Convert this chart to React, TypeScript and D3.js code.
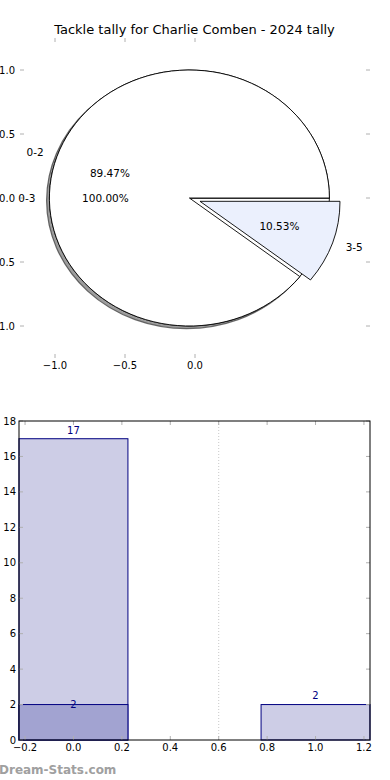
import * as d3 from "d3";

const title = "Tackle tally for Charlie Comben - 2024 tally";

// pie data
const fullLabels = ["0-3"];
const fullValues = [19];
const splitLabels = ["0-2", "3-5"];
const splitValues = [17, 2];
const splitExplode = [0, 0.08];
const pieXTicks = [-1.0, -0.5, 0.0];
const pieYTicks = [-1.0, -0.5, 0.0, 0.5, 1.0];

// bar data
const barCats = [0, 1];
const barTotals = [17, 2];
const barSubset = [2, 0];
const barXTicks = [-0.2, 0.0, 0.2, 0.4, 0.6, 0.8, 1.0, 1.2];
const barYTicks = [0, 2, 4, 6, 8, 10, 12, 14, 16, 18];
const dividers = [0.6];

const font = "DejaVu Sans, sans-serif";
const minus = (s: string) => s.replace("-", "\u2212");

const pieCenter = [-0.04, 0];
const px = d3.scaleLinear().domain([-1.25, 1.25]).range([20, 370]);
const py = d3.scaleLinear().domain([-1.25, 1.25]).range([358, 38]);

// wedge in data coords (mpl angles, counterclockwise from 3 o'clock)
function wedge(cx: number, cy: number, a0: number, a1: number, dx = 0, dy = 0) {
  const rx = px(1) - px(0);
  const ry = py(0) - py(1);
  const pt = (a: number) => [px(cx + Math.cos(a)) + dx, py(cy + Math.sin(a)) + dy];
  const c = [px(cx) + dx, py(cy) + dy];
  if (a1 - a0 >= 2 * Math.PI - 1e-6) {
    const p0 = pt(a0);
    const pm = pt(a0 + Math.PI);
    return `M${c[0]},${c[1]}L${p0[0]},${p0[1]}A${rx},${ry} 0 1 0 ${pm[0]},${pm[1]}A${rx},${ry} 0 1 0 ${p0[0]},${p0[1]}Z`;
  }
  const p0 = pt(a0);
  const p1 = pt(a1);
  const large = a1 - a0 > Math.PI ? 1 : 0;
  return `M${c[0]},${c[1]}L${p0[0]},${p0[1]}A${rx},${ry} 0 ${large} 0 ${p1[0]},${p1[1]}Z`;
}

function pieSlices(values: number[], labels: string[], explode: number[]) {
  const arcs = d3.pie<number>().sort(null)(values);
  const total = d3.sum(values);
  return arcs.map((a, i) => {
    const a0 = a.startAngle;
    const a1 = a.endAngle;
    const mid = (a0 + a1) / 2;
    const e = explode[i] || 0;
    const cx = pieCenter[0] + e * Math.cos(mid);
    const cy = pieCenter[1] + e * Math.sin(mid);
    return {
      a0, a1, mid, cx, cy,
      label: labels[i],
      pct: ((values[i] / total) * 100).toFixed(2) + "%",
    };
  });
}

const fullSlices = pieSlices(fullValues, fullLabels, [0]);
const splitSlices = pieSlices(splitValues, splitLabels, splitExplode);

const bx = d3.scaleLinear().domain([-0.225, 1.225]).range([19, 370]);
const by = d3.scaleLinear().domain([0, 18]).range([740, 421]);
const barW = 0.45;

const tickGray = "#b0b0b0";

export default function App() {
  // shadow offset (-0.02, -0.02) in data units
  const sdx = px(-0.02) - px(0);
  const sdy = py(-0.02) - py(0);
  const labelEl = (s: any, key: string) => {
    const lx = s.cx + 1.1 * Math.cos(s.mid);
    const ly = s.cy + 1.1 * Math.sin(s.mid);
    const tx = s.cx + 0.6 * Math.cos(s.mid);
    const ty = s.cy + 0.6 * Math.sin(s.mid);
    return (
      <g key={key}>
        <text x={px(lx)} y={py(ly)} dy="0.35em" fontSize={10.5}
          textAnchor={lx < 0 ? "end" : "start"}>{s.label}</text>
        <text x={px(tx)} y={py(ty)} dy="0.35em" fontSize={10.5} textAnchor="middle">{s.pct}</text>
      </g>
    );
  };
  const barWidthPx = bx(barW) - bx(0);
  return (
    <svg width={390} height={780} style={{ position: "absolute", left: 0, top: 0 }}
      fontFamily={font}>
      <rect width={390} height={780} fill="#fff" />
      <text x={194.5} y={34} fontSize={13} textAnchor="middle">{title}</text>

      {/* pie ticks */}
      {pieXTicks.map((t) => (
        <g key={"px" + t}>
          <line x1={px(t)} x2={px(t)} y1={38} y2={42} stroke={tickGray} />
          <line x1={px(t)} x2={px(t)} y1={354} y2={358} stroke={tickGray} />
          <text x={px(t)} y={369} fontSize={10} textAnchor="middle">{minus(t.toFixed(1))}</text>
        </g>
      ))}
      {pieYTicks.map((t) => (
        <g key={"py" + t}>
          <line x1={20} x2={24} y1={py(t)} y2={py(t)} stroke={tickGray} />
          <line x1={366} x2={370} y1={py(t)} y2={py(t)} stroke={tickGray} />
          <text x={15} y={py(t)} dy="0.35em" fontSize={10} textAnchor="end">{minus(t.toFixed(1))}</text>
        </g>
      ))}

      {/* full pie with shadow */}
      {fullSlices.map((s, i) => (
        <g key={"f" + i}>
          <path d={wedge(s.cx, s.cy, s.a0, s.a1, sdx, sdy)} fill="#4d4d4d" fillOpacity={0.55}
            stroke="#333" strokeOpacity={0.7} strokeWidth={1.2} />
          <path d={wedge(s.cx, s.cy, s.a0, s.a1)} fill="#fff" stroke="#000" strokeWidth={0.9} />
        </g>
      ))}
      {/* split pie */}
      {splitSlices.map((s, i) => (
        <path key={"s" + i} d={wedge(s.cx, s.cy, s.a0, s.a1)} fill={i === 0 ? "#fff" : "#ebf0fd"}
          stroke="#000" strokeWidth={0.9} />
      ))}
      {fullSlices.map((s, i) => labelEl(s, "fl" + i))}
      {splitSlices.map((s, i) => labelEl(s, "sl" + i))}

      {/* bar chart */}
      {dividers.map((d) => (
        <line key={"d" + d} x1={bx(d)} x2={bx(d)} y1={by(0)} y2={by(18)}
          stroke="#c8c8c8" strokeDasharray="1,2" />
      ))}
      {barCats.map((c, i) => (
        <rect key={"bt" + i} x={bx(c - barW / 2)} y={by(barTotals[i])}
          width={barWidthPx} height={by(0) - by(barTotals[i])}
          fill="#cdcde6" stroke="#000080" strokeWidth={1} />
      ))}
      {barCats.map((c, i) =>
        barSubset[i] > 0 ? (
          <rect key={"bs" + i} x={bx(c - barW / 2)} y={by(barSubset[i])}
            width={barWidthPx} height={by(0) - by(barSubset[i])}
            fill="#a2a3d1" stroke="#000080" strokeWidth={1} />
        ) : null
      )}
      {barCats.map((c, i) => (
        <text key={"lt" + i} x={bx(c)} y={by(barTotals[i] + 0.49)} dy="0.35em"
          fontSize={10} fill="#000080" textAnchor="middle">{barTotals[i]}</text>
      ))}
      {barCats.map((c, i) =>
        barSubset[i] > 0 ? (
          <text key={"ls" + i} x={bx(c)} y={by(barSubset[i])} dy="0.35em"
            fontSize={10} fill="#000080" textAnchor="middle">{barSubset[i]}</text>
        ) : null
      )}

      {/* bar axes */}
      {barXTicks.map((t) => (
        <g key={"bx" + t}>
          <line x1={bx(t)} x2={bx(t)} y1={740} y2={736} stroke={tickGray} />
          <line x1={bx(t)} x2={bx(t)} y1={421} y2={425} stroke={tickGray} />
          <text x={bx(t)} y={751} fontSize={10} textAnchor="middle">{minus(t.toFixed(1))}</text>
        </g>
      ))}
      {barYTicks.map((t) => (
        <g key={"by" + t}>
          <line x1={19} x2={23} y1={by(t)} y2={by(t)} stroke={tickGray} />
          <line x1={366} x2={370} y1={by(t)} y2={by(t)} stroke={tickGray} />
          <text x={16} y={by(t)} dy="0.35em" fontSize={10} textAnchor="end">{t}</text>
        </g>
      ))}
      <rect x={19} y={421} width={351} height={319} fill="none" stroke="#000" strokeWidth={1} />

      <text x={-1} y={774} fontSize={12} fill="#a0a0a0" fontWeight={600}>Dream-Stats.com</text>
    </svg>
  );
}
